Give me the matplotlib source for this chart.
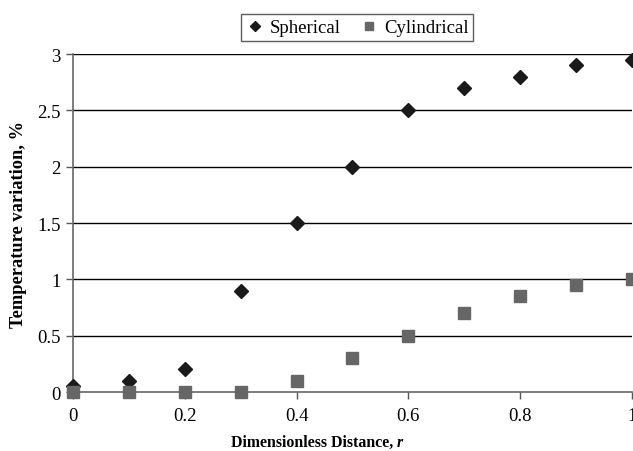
import matplotlib
matplotlib.use("Agg")
import matplotlib.pyplot as plt

r_values = [0.0, 0.1, 0.2, 0.3, 0.4, 0.5, 0.6, 0.7, 0.8, 0.9, 1.0]
spherical = [0.05, 0.1, 0.2, 0.9, 1.5, 2.0, 2.5, 2.7, 2.8, 2.9, 2.95]
cylindrical = [0.0, 0.0, 0.0, 0.0, 0.1, 0.3, 0.5, 0.7, 0.85, 0.95, 1.0]
x_ticks = [0, 0.2, 0.4, 0.6, 0.8, 1]
x_tick_labels = ["0", "0.2", "0.4", "0.6", "0.8", "1"]
y_ticks = [0, 0.5, 1, 1.5, 2, 2.5, 3]
y_tick_labels = ["0", "0.5", "1", "1.5", "2", "2.5", "3"]

plt.rcParams["font.family"] = ["Liberation Serif", "DejaVu Serif"]

fig = plt.figure(figsize=(6.33, 4.52), dpi=100)
ax = fig.add_axes([0.1153, 0.1305, 0.8831, 0.7478])

# horizontal gridlines
for y in y_ticks[1:]:
    ax.axhline(y, color="black", lw=1.0, zorder=1)

ax.plot(r_values, spherical, linestyle="none", marker="D", ms=7,
        color="#1a1a1a", label="Spherical", zorder=3, clip_on=False)
ax.plot(r_values, cylindrical, linestyle="none", marker="s", ms=8,
        color="#666666", label="Cylindrical", zorder=3, clip_on=False)

ax.set_xlim(0, 1)
ax.set_ylim(0, 3)
ax.set_xticks(x_ticks)
ax.set_xticklabels(x_tick_labels)
ax.set_yticks(y_ticks)
ax.set_yticklabels(y_tick_labels)
ax.tick_params(axis="both", labelsize=13.5, color="#555555", length=5, width=1,
               direction="out")
ax.tick_params(axis="y", pad=4)
ax.tick_params(axis="x", pad=6)

for side in ("top", "right"):
    ax.spines[side].set_visible(False)
for side in ("left", "bottom"):
    ax.spines[side].set_color("#666666")
    ax.spines[side].set_linewidth(1.2)

# x-axis title with an italic variable name
split_x = 0.627
fig.text(split_x, 1 - 443 / 452, "Dimensionless Distance, ", fontsize=11.4,
         fontweight="bold", ha="right", va="center")
fig.text(split_x, 1 - 443 / 452, "r", fontsize=11.4, fontweight="bold",
         style="italic", ha="left", va="center")
fig.text(19 / 633, 1 - 224 / 452, "Temperature variation, %",
         fontsize=13.2, fontweight="bold", rotation=90, ha="center", va="center")

leg = fig.legend(loc="upper center", bbox_to_anchor=(357 / 633, 1 - 6 / 452), ncol=2,
                 fontsize=13.5, frameon=True, fancybox=False, edgecolor="#333333",
                 handletextpad=0.3, columnspacing=1.0, borderpad=0.25,
                 handlelength=1.0, markerscale=0.75)
leg.get_frame().set_linewidth(1.0)

fig.savefig("out.png", dpi=100)
